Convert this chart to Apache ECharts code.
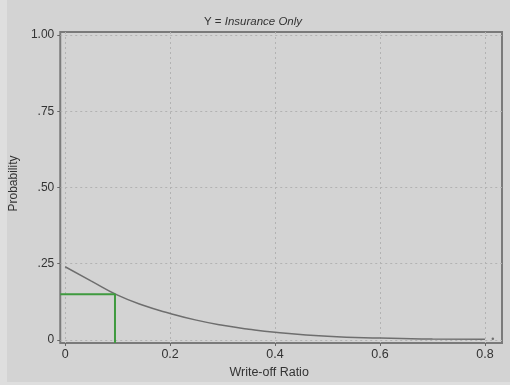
<!DOCTYPE html>
<html>
<head>
    <meta charset="utf-8">
    <script type="text/javascript" src="https://cdn.jsdelivr.net/npm/echarts@6/dist/echarts.min.js"></script>
    <title></title>
    <style>
        html, body { margin: 0; padding: 0; }
        #main { width: 510px; height: 385px; }
    </style>
</head>
<body>
<div id="main"></div>
<script type="text/javascript">
    // values
    var ratio = [0, 0.05, 0.1, 0.15, 0.2, 0.25, 0.3, 0.35, 0.4, 0.5, 0.6, 0.7, 0.8];
    var prob = [0.240, 0.193, 0.147, 0.113, 0.087, 0.065, 0.048, 0.035, 0.025, 0.012, 0.006, 0.003, 0.002];
    // green marker: write-off 0.095 -> probability 0.15
    var markX = [-0.0093, 0.095, 0.095];
    var markY = [0.15, 0.15, -0.01];
    var endDot = [[0.815, 0.004]];
    var xTicks = [0, 0.2, 0.4, 0.6, 0.8];
    var yTicks = [0, 0.25, 0.5, 0.75, 1];
    var yTickLabels = ['0', '.25', '.50', '.75', '1.00'];

    var curve = ratio.map(function (v, i) { return [v, prob[i]]; });
    var guide = markX.map(function (v, i) { return [v, markY[i]]; });

    var myChart = echarts.init(document.getElementById('main'));
    var font = 'Liberation Sans, Arial, sans-serif';
    var option = {
        backgroundColor: '#dedede',
        animation: false,
        graphic: [{
            type: 'rect',
            silent: true,
            z: -10,
            shape: { x: 7, y: 0, width: 503, height: 382 },
            style: { fill: '#d3d3d3' }
        }],
        title: {
            text: '{a|Y = }{b|Insurance Only}',
            left: 248,
            top: 11,
            textAlign: 'center',
            textStyle: {
                rich: {
                    a: { fontFamily: font, fontSize: 11.5, color: '#333', fontWeight: 'normal' },
                    b: { fontFamily: font, fontSize: 11.5, color: '#333', fontWeight: 'normal', fontStyle: 'italic' }
                }
            }
        },
        grid: {
            left: 49, right: 8, top: 32, bottom: 42,
            show: true,
            borderColor: '#7a7a7a',
            borderWidth: 2
        },
        xAxis: {
            type: 'value',
            min: -0.0093,
            max: 0.8325,
            name: 'Write-off Ratio',
            nameLocation: 'middle',
            nameGap: 20,
            nameTextStyle: { fontFamily: font, fontSize: 12.5, color: '#333', padding: [0, 24, 0, 0] },
            axisLine: { show: false, onZero: false },
            axisTick: { customValues: xTicks, length: 3, lineStyle: { color: '#666' } },
            axisLabel: {
                customValues: xTicks,
                margin: 5,
                fontFamily: font, fontSize: 12.5, color: '#333',
                formatter: function (v) { return v === 0 ? '0' : String(+v.toFixed(1)); }
            },
            splitLine: { show: true, lineStyle: { color: '#b2b2b2', type: [2, 3], width: 1 } }
        },
        yAxis: {
            type: 'value',
            min: -0.01,
            max: 1.01,
            name: 'Probability',
            nameLocation: 'middle',
            nameGap: 28,
            nameTextStyle: { fontFamily: font, fontSize: 12, color: '#333', padding: [0, 0, 0, 8] },
            axisLine: { show: false, onZero: false },
            axisTick: { customValues: yTicks, length: 3, lineStyle: { color: '#666' } },
            axisLabel: {
                customValues: yTicks,
                margin: 6,
                fontFamily: font, fontSize: 12, color: '#333',
                formatter: function (v) {
                    var i = yTicks.indexOf(+v.toFixed(2));
                    return i >= 0 ? yTickLabels[i] : '';
                }
            },
            splitLine: { show: true, lineStyle: { color: '#b2b2b2', type: [2, 3], width: 1 } }
        },
        series: [{
            type: 'line',
            data: curve,
            smooth: true,
            showSymbol: false,
            lineStyle: { color: '#6e6e6e', width: 1.5 }
        }, {
            type: 'line',
            data: guide,
            showSymbol: false,
            lineStyle: { color: '#3f9a3f', width: 2 }
        }, {
            type: 'scatter',
            data: endDot,
            symbolSize: 2.5,
            itemStyle: { color: '#555' }
        }]
    };
    myChart.setOption(option);
</script>
</body>
</html>
